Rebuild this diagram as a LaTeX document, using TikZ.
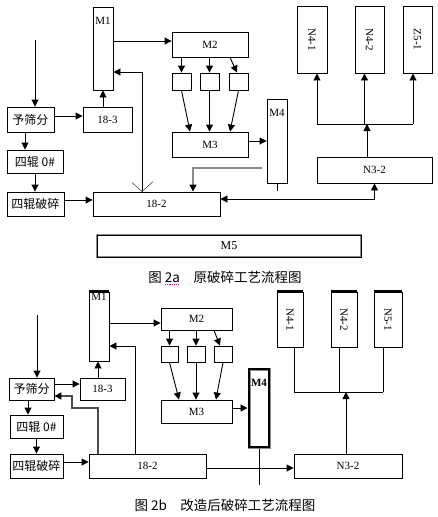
\documentclass[tikz,border=0pt]{standalone}
\usepackage{fontspec}
\usepackage{graphicx}
\usepackage{tikz}
\usetikzlibrary{arrows.meta,positioning}
\setmainfont{Liberation Serif}
\newfontfamily\cjk{Noto Sans CJK SC}
\newcommand\labfont{\fontsize{11}{12}\selectfont}
\newcommand\cnfont{\cjk\fontsize{12}{13}\selectfont}
\newcommand\capfont{\cjk\fontsize{13.5}{15}\selectfont}

\begin{document}
\begin{tikzpicture}[x=1pt, y=-1pt, font=\labfont]
\tikzset{box/.style={draw, line width=0.9pt, inner sep=0pt},
         cnbox/.style={box, font=\cnfont},
         toplab/.style={anchor=north, inner sep=0pt, font=\labfont},
         arr/.style={-{Triangle[length=7pt,width=7pt]}, line width=0.9pt},
         arr2/.style={{Triangle[length=7pt,width=7pt]}-{Triangle[length=7pt,width=7pt]},
                      line width=0.9pt},
         ln/.style={line width=0.9pt},
         bar/.style={line width=2.4pt}}
\useasboundingbox (0,0) rectangle (438,517);

% ---- figure 2a
\node(m1a) [box, minimum width=20pt, minimum height=83pt,
            label={[toplab, yshift=-10pt]north:M1}] at (103,48.5) {};
\node(m2a) [box, minimum width=76pt, minimum height=25pt] at (210,44.5) {M2};
\node(ba1) [box, minimum width=19pt, minimum height=17pt] at (181.5,81.5) {};
\node(ba2) [box, minimum width=19pt, minimum height=17pt,
            right of=ba1, node distance=28pt] {};
\node(ba3) [box, minimum width=19pt, minimum height=17pt,
            right of=ba2, node distance=29pt] {};
\node(m3a) [box, minimum width=76pt, minimum height=25pt] at (210,144.5) {M3};
\node(m4a) [box, minimum width=20pt, minimum height=84pt,
            label={[toplab, yshift=-11pt]north:M4}] at (277,141) {};
\node(n41a) [box, minimum width=30pt, minimum height=67pt] at (312,39.5)
  {\rotatebox{-90}{N4-1}};
\node(n42a) [box, minimum width=29pt, minimum height=67pt,
             right of=n41a, node distance=57.5pt] {\rotatebox{-90}{N4-2}};
\node(z51a) [box, minimum width=29pt, minimum height=67pt,
             right of=n42a, node distance=48pt] {\rotatebox{-90}{Z5-1}};
\node(n32a) [box, minimum width=115pt, minimum height=26pt] at (374.5,170) {N3-2};
\node(e182a) [box, minimum width=127pt, minimum height=24pt] at (156.5,204) {18-2};
\node(sf1) [cnbox, minimum width=47pt, minimum height=25pt] at (30.5,119.5) {予筛分};
\node(s183a) [box, minimum width=49pt, minimum height=25pt] at (107.5,119.5) {18-3};
\node(r0a) [cnbox, minimum width=56pt, minimum height=23pt] at (35,161.5) {四辊 0\#};
\node(rpa) [cnbox, minimum width=57pt, minimum height=24pt] at (35.5,204) {四辊破碎};
\node(m5) [box, draw=black!45, line width=2.6pt, postaction={draw=black, line width=1pt},
           minimum width=264pt, minimum height=22pt, font=\fontsize{12}{14}\selectfont]
  at (229,246) {M5};
\node(cap1) [font=\capfont] at (225,277) {图 2a\quad 原破碎工艺流程图};
\draw[magenta, densely dotted, line width=0.8pt] (165,284) -- (178,284);

\coordinate (feed1) at (35,40);
\draw[arr] (feed1) -- (feed1 |- sf1.north);
\draw[arr] ([yshift=3.5pt]sf1.east) -- ([yshift=3.5pt]sf1.east -| s183a.west);
\draw[arr] (m1a.south |- s183a.north) -- (m1a.south);
\draw[arr] ([xshift=-5.5pt]sf1.south) -- ([xshift=-5.5pt]sf1.south |- r0a.north);
\draw[arr] (r0a.south) -- (r0a.south |- rpa.north);
\draw[arr] ([yshift=4pt]rpa.east) -- ([yshift=4pt]rpa.east -| e182a.west);
\coordinate (back1) at ([xshift=-14.5pt]e182a.north);
\draw[arr] (back1) |- ([yshift=-23.5pt]m1a.east);
\draw[line width=0.6pt, black!70] ([xshift=-10pt,yshift=9pt]back1) -- (back1)
  -- ([xshift=11pt,yshift=10pt]back1);
\draw[arr] ([yshift=7.5pt]m1a.east) -- ([yshift=7.5pt]m1a.east -| m2a.west);
\draw[arr] (m2a.south -| ba1) -- (ba1.north);
\draw[arr] (m2a.south -| ba2) -- (ba2.north);
\draw[arr] ([xshift=20pt]m2a.south) -- ([xshift=-1.5pt]ba3.north);
\draw[arr] (ba1.south) -- ([xshift=-20pt]m3a.north);
\draw[arr] (ba2.south) -- (ba2.south |- m3a.north);
\draw[arr] (ba3.south) -- ([xshift=20pt]m3a.north);
\draw[arr] ([yshift=3.5pt]m3a.east) -- ([yshift=3.5pt]m3a.east -| m4a.west);
\coordinate (tail1) at (277,191);
\draw[ln] (m4a.south) -- (tail1);
\coordinate (dot1) at (262,168);
\coordinate (drop1) at (193,0);
\draw[-{Triangle[length=7pt,width=7pt,color=black]}, draw=black!45, line width=1.3pt]
  (dot1) -| (drop1 |- e182a.north);
\draw[arr2] ([yshift=5pt]e182a.east) -| (n32a.south);
\coordinate (fork1) at (367,124);
\draw[arr] (fork1 |- n32a.north) -- (fork1);
\coordinate (up1) at ([xshift=5pt]n41a.south);
\coordinate (up2) at ([xshift=-5pt]n42a.south);
\coordinate (up3) at ([xshift=-4.5pt]z51a.south);
\draw[ln] (up1 |- fork1) -- (up3 |- fork1);
\draw[arr] (up1 |- fork1) -- (up1);
\draw[arr] (up2 |- fork1) -- (up2);
\draw[arr] (up3 |- fork1) -- (up3);

% ---- figure 2b
\node(m1b) [box, minimum width=20pt, minimum height=69pt,
            label={[toplab, yshift=-1.5pt]north:M1}] at (99,326.5) {};
\node(m2b) [box, minimum width=71pt, minimum height=22pt] at (196.5,319) {M2};
\node(bb1) [box, minimum width=17pt, minimum height=16pt] at (169.5,354) {};
\node(bb2) [box, minimum width=18pt, minimum height=16pt,
            right of=bb1, node distance=26.5pt] {};
\node(bb3) [box, minimum width=18pt, minimum height=16pt,
            right of=bb2, node distance=27pt] {};
\node(m3b) [box, minimum width=71pt, minimum height=23pt] at (196.5,411.5) {M3};
\node(m4b) [box, draw=black!45, line width=3pt, postaction={draw=black, line width=1.6pt},
            minimum width=20pt, minimum height=78pt,
            label={[toplab, yshift=-12pt, font=\labfont\bfseries]north:M4}] at (259,408) {};
\node(n41b) [box, minimum width=26pt, minimum height=55pt] at (290,319.5)
  {\rotatebox{-90}{N4-1}};
\node(n42b) [box, minimum width=26pt, minimum height=55pt,
             right of=n41b, node distance=54pt] {\rotatebox{-90}{N4-2}};
\node(n51b) [box, minimum width=28pt, minimum height=55pt,
             right of=n42b, node distance=44pt] {\rotatebox{-90}{N5-1}};
\node(n32b) [box, minimum width=108pt, minimum height=24pt] at (348,466) {N3-2};
\node(e182b) [box, minimum width=117pt, minimum height=24pt] at (147.5,466) {18-2};
\node(sf2) [cnbox, minimum width=45pt, minimum height=22pt] at (31.5,389) {予筛分};
\node(s183b) [box, minimum width=45pt, minimum height=22pt] at (102.5,389) {18-3};
\node(r0b) [cnbox, minimum width=53pt, minimum height=23pt] at (36.5,426.5) {四辊 0\#};
\node(rpb) [cnbox, minimum width=53pt, minimum height=24pt] at (36.5,466) {四辊破碎};
\node(cap2) [font=\capfont] at (225,505) {图 2b\quad 改造后破碎工艺流程图};
\draw[bar] (m1b.north west) -- (m1b.north east);
\draw[bar] (n41b.north west) -- (n41b.north east);
\draw[bar] (n42b.north west) -- (n42b.north east);
\draw[bar] (n51b.north west) -- (n51b.north east);

\coordinate (feed2) at (37,315);
\draw[arr] (feed2) -- (feed2 |- sf2.north);
\draw[arr] ([yshift=5pt]sf2.east) -- ([yshift=5pt]sf2.east -| s183b.west);
\draw[arr] ([xshift=-4.5pt]s183b.north) -- ([xshift=-4.5pt]s183b.north |- m1b.south);
\draw[arr] ([xshift=-3.5pt]sf2.south) -- ([xshift=-3.5pt]sf2.south |- r0b.north);
\draw[arr] (r0b.south) -- (r0b.south |- rpb.north);
\draw[arr] ([yshift=4pt]rpb.east) -- ([yshift=4pt]rpb.east -| e182b.west);
\draw[arr] ([xshift=-12.5pt]e182b.north) |- ([yshift=-19.5pt]m1b.east);
\coordinate (back2) at ([xshift=-49.5pt]e182b.north);
\coordinate (bend2) at (72,408);
\draw[-{Triangle[length=7pt,width=7pt,color=black]}, draw=black!70, line width=1.8pt]
  (back2) |- (bend2) |- ([yshift=-7pt]sf2.east);
\draw[arr] ([yshift=3.5pt]m1b.east) -- ([yshift=3.5pt]m1b.east -| m2b.west);
\draw[arr] (m2b.south -| bb1) -- (bb1.north);
\draw[arr] (m2b.south -| bb2) -- (bb2.north);
\draw[arr] ([xshift=17.5pt]m2b.south) -- ([xshift=-3pt]bb3.north);
\draw[arr] (bb1.south) -- ([xshift=-17.5pt]m3b.north);
\draw[arr] (bb2.south) -- (bb2.south |- m3b.north);
\draw[arr] (bb3.south) -- ([xshift=19.5pt]m3b.north);
\draw[arr] ([yshift=3.5pt]m3b.east) -- ([yshift=3.5pt]m3b.east -| m4b.west);
\coordinate (tail2) at (259,485);
\draw[ln] (m4b.south) -- (tail2);
\draw[arr] ([yshift=-2pt]e182b.east) -- ([yshift=-2pt]e182b.east -| n32b.west);
\coordinate (fork2) at (346,392);
\draw[arr] (fork2 |- n32b.north) -- (fork2);
\coordinate (up4) at ([xshift=4pt]n41b.south);
\coordinate (up5) at ([xshift=-5pt]n42b.south);
\coordinate (up6) at ([xshift=-5pt]n51b.south);
\draw[ln] (up4 |- fork2) -- (up6 |- fork2);
\draw[ln] (up4 |- fork2) -- (up4);
\draw[ln] (up5 |- fork2) -- (up5);
\draw[ln] (up6 |- fork2) -- (up6);
\end{tikzpicture}
\end{document}
